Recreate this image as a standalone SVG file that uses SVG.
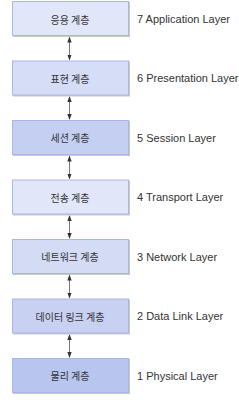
<svg xmlns="http://www.w3.org/2000/svg" width="239" height="400" viewBox="0 0 239 400">
<defs>
<marker id="ah" viewBox="0 0 6 6" refX="5" refY="3" markerWidth="6" markerHeight="6" orient="auto-start-reverse" markerUnits="userSpaceOnUse">
<path d="M0,0.8 L6,3 L0,5.2 Z" fill="#333"/>
</marker>
</defs>
<style>
.shadow{fill:#c9c9cc;}
.box{stroke:#a9b7e6;stroke-width:1;}
.lbl{font-family:"Noto Sans CJK KR","Noto Sans",sans-serif;font-size:10px;fill:#333;text-anchor:middle;dominant-baseline:central;}
.side{font-family:"Liberation Sans",Arial,sans-serif;font-size:11px;fill:#333;dominant-baseline:central;}
.con{stroke:#777;stroke-width:1;fill:none;marker-start:url(#ah);marker-end:url(#ah);}
</style>
<rect width="239" height="400" fill="#fff"/>
<g id="connectors">
<line class="con" x1="69.5" y1="37.5" x2="69.5" y2="59.5"/>
<line class="con" x1="69.5" y1="97" x2="69.5" y2="119"/>
<line class="con" x1="69.5" y1="156.5" x2="69.5" y2="178.5"/>
<line class="con" x1="69.5" y1="216" x2="69.5" y2="238"/>
<line class="con" x1="69.5" y1="275.5" x2="69.5" y2="297.5"/>
<line class="con" x1="69.5" y1="335" x2="69.5" y2="357"/>
</g>
<g id="n7">
<rect class="shadow" x="13" y="2" width="117" height="35"/>
<rect class="box" x="12.5" y="1.5" width="116" height="34" fill="#e2e6f9"/>
<text class="lbl" x="70" y="19">응용 계층</text>
<text class="side" x="137" y="19">7 Application Layer</text>
</g>
<g id="n6">
<rect class="shadow" x="13" y="61.5" width="117" height="35"/>
<rect class="box" x="12.5" y="61" width="116" height="34" fill="#d6ddf6"/>
<text class="lbl" x="70" y="78">표현 계층</text>
<text class="side" x="137" y="78">6 Presentation Layer</text>
</g>
<g id="n5">
<rect class="shadow" x="13" y="121" width="117" height="35"/>
<rect class="box" x="12.5" y="120.5" width="116" height="34" fill="#c5cff2"/>
<text class="lbl" x="70" y="137.5">세션 계층</text>
<text class="side" x="137" y="137.5">5 Session Layer</text>
</g>
<g id="n4">
<rect class="shadow" x="13" y="180.5" width="117" height="35"/>
<rect class="box" x="12.5" y="180" width="116" height="34" fill="#e2e6f9"/>
<text class="lbl" x="70" y="197">전송 계층</text>
<text class="side" x="137" y="197">4 Transport Layer</text>
</g>
<g id="n3">
<rect class="shadow" x="13" y="240" width="117" height="35"/>
<rect class="box" x="12.5" y="239.5" width="116" height="34" fill="#d4dbf5"/>
<text class="lbl" x="70" y="256.5">네트워크 계층</text>
<text class="side" x="137" y="256.5">3 Network Layer</text>
</g>
<g id="n2">
<rect class="shadow" x="13" y="299.5" width="117" height="35"/>
<rect class="box" x="12.5" y="299" width="116" height="34" fill="#c8d1f2"/>
<text class="lbl" x="70" y="316">데이터 링크 계층</text>
<text class="side" x="137" y="316">2 Data Link Layer</text>
</g>
<g id="n1">
<rect class="shadow" x="13" y="359" width="117" height="35"/>
<rect class="box" x="12.5" y="358.5" width="116" height="34" fill="#b8c5ef"/>
<text class="lbl" x="70" y="375.5">물리 계층</text>
<text class="side" x="137" y="375.5">1 Physical Layer</text>
</g>
</svg>
